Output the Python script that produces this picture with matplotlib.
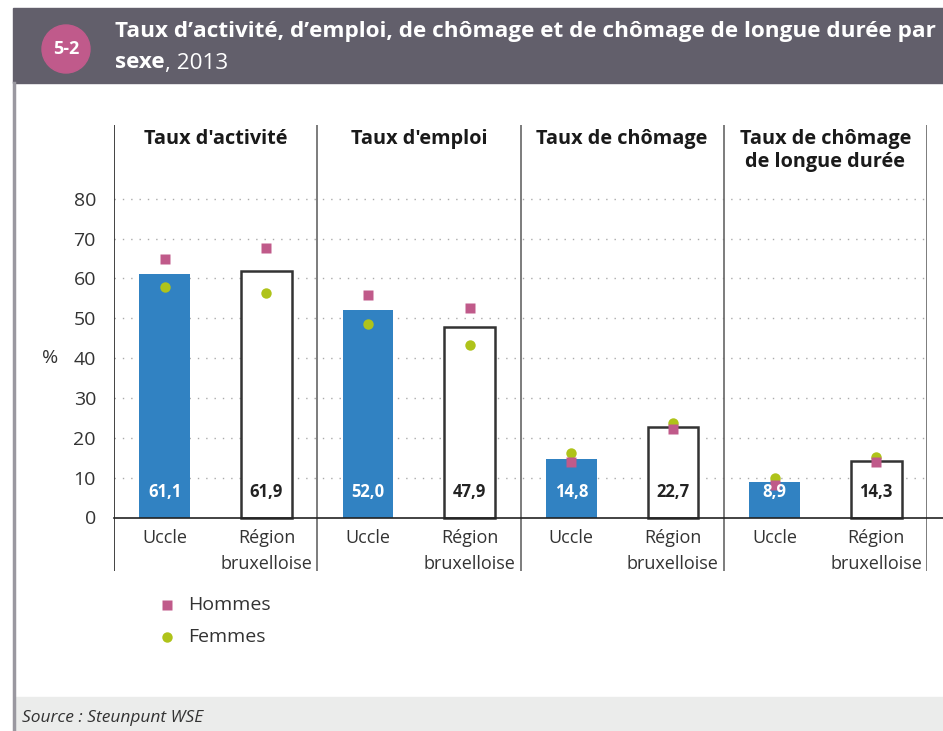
import matplotlib
matplotlib.use('Agg')
import matplotlib.pyplot as plt
from matplotlib.patches import Rectangle, Ellipse

# data
panels = ["Taux d'activité", "Taux d'emploi", "Taux de chômage",
          "Taux de chômage\nde longue durée"]
regions = ["Uccle", "Région\nbruxelloise"]
uccle = [61.1, 52.0, 14.8, 8.9]
region = [61.9, 47.9, 22.7, 14.3]
hommes_uccle = [64.9, 55.8, 13.9, 8.2]
hommes_region = [67.6, 52.6, 22.3, 13.9]
femmes_uccle = [57.8, 48.6, 16.1, 10.0]
femmes_region = [56.3, 43.3, 23.6, 15.1]
yticks = [0, 10, 20, 30, 40, 50, 60, 70, 80]

W, H = 943, 731
FONT = 'Open Sans'
BLUE = '#3182c2'
PINK = '#c05a8a'
GREEN = '#afc31a'
HEAD = '#625f6b'
MS = 7.5

plt.rcParams['font.family'] = [FONT, 'DejaVu Sans']
fig = plt.figure(figsize=(W / 100, H / 100), dpi=100)


def fx(px):
    return px / W


def fy(py):
    return 1 - py / H


# header band, left border and footer
fig.patches.append(Rectangle((fx(13), fy(83)), 1 - fx(13), fy(8) - fy(83),
                             transform=fig.transFigure, color=HEAD, zorder=0))
fig.patches.append(Rectangle((fx(14), 0), 1 - fx(14), fy(697),
                             transform=fig.transFigure, color='#ebeceb', zorder=0))
fig.add_artist(plt.Line2D([fx(14), fx(14)], [0, fy(83)], color='#9a98a0', lw=2.5))
fig.patches.append(Ellipse((fx(66), fy(49)), 48 / W, 48 / H,
                           transform=fig.transFigure, color='#c05a8b', zorder=1))
fig.text(fx(66), fy(49), '5-2', color='white', fontsize=13, fontweight='bold',
         ha='center', va='center')
fig.text(fx(115), fy(31), 'Taux d’activité, d’emploi, de chômage et de chômage de longue durée par',
         color='white', fontsize=16.2, fontweight='bold', va='center')
t = fig.text(fx(115), fy(63), 'sexe', color='white', fontsize=16.2,
             fontweight='bold', va='center')
fig.canvas.draw()
bb = t.get_window_extent()
fig.text(bb.x1 / W, fy(63), ', 2013', color='white', fontsize=16.2, va='center')
fig.text(fx(22), fy(718), 'Source : Steunpunt WSE', fontsize=12.5, style='italic',
         color='#333333', va='center')

# chart axes
y0, scale = 517.5, 3.985
top, bot = 125, 571
ax = fig.add_axes([fx(114), fy(bot), fx(927) - fx(114), fy(top) - fy(bot)])
ax.set_xlim(0, 8)
ax.set_ylim((y0 - bot) / scale, (y0 - top) / scale)
for s in ax.spines.values():
    s.set_visible(False)
ax.set_xticks([])
ax.set_yticks(yticks)
ax.set_yticklabels([str(v) for v in yticks], fontsize=14, color='#333333')
ax.tick_params(axis='y', length=0, pad=13)
ax.text(-64 / 101.6, 40, '%', fontsize=14, color='#333333', ha='center', va='center')

for v in yticks[1:]:
    ax.axhline(v, color='#aaaaaa', lw=1, ls=(0, (1, 5)), zorder=0)
ax.plot([0, 8.16], [0, 0], color='#222222', lw=1.2, clip_on=False, zorder=3)
ax.axvline(0, color='#222222', lw=1.2)
for i in range(1, 5):
    ax.axvline(2 * i, color='#666666', lw=1.2)

for i in range(4):
    xu, xr = 2 * i + 0.5, 2 * i + 1.5
    ax.bar(xu, uccle[i], width=0.5, color=BLUE, zorder=2)
    ax.bar(xr, region[i], width=0.5, color='white', edgecolor='#333333',
           linewidth=1.8, zorder=2)
    ax.text(xu, 6.3, f'{uccle[i]:.1f}'.replace('.', ','), color='white',
            fontsize=12, fontweight='bold', ha='center', va='center', zorder=5)
    ax.text(xr, 6.3, f'{region[i]:.1f}'.replace('.', ','), color='#222222',
            fontsize=12, fontweight='bold', ha='center', va='center', zorder=5)
    ax.plot([xu, xr], [femmes_uccle[i], femmes_region[i]], 'o', ls='none',
            color=GREEN, ms=MS, mec='none', zorder=4)
    ax.plot([xu, xr], [hommes_uccle[i], hommes_region[i]], 's', ls='none',
            color=PINK, ms=MS, mec='none', zorder=4)
    ax.text(xu, -2.9, regions[0], fontsize=13, color='#333333', ha='center',
            va='top', linespacing=1.55)
    ax.text(xr, -2.9, regions[1], fontsize=13, color='#333333', ha='center',
            va='top', linespacing=1.55)
    ax.text(2 * i + 1, 97.6, panels[i], fontsize=14.3, fontweight='bold',
            color='#1a1a1a', ha='center', va='top', linespacing=1.25)

# legend
ax.plot([(167 - 114) / 101.6], [(y0 - 605) / scale], 's', color=PINK, ms=MS,
        mec='none', clip_on=False)
ax.plot([(167 - 114) / 101.6], [(y0 - 637) / scale], 'o', color=GREEN, ms=MS,
        mec='none', clip_on=False)
ax.text((188 - 114) / 101.6, (y0 - 605) / scale, 'Hommes', fontsize=14,
        color='#333333', va='center')
ax.text((188 - 114) / 101.6, (y0 - 637) / scale, 'Femmes', fontsize=14,
        color='#333333', va='center')

fig.savefig('out.png', dpi=100)
